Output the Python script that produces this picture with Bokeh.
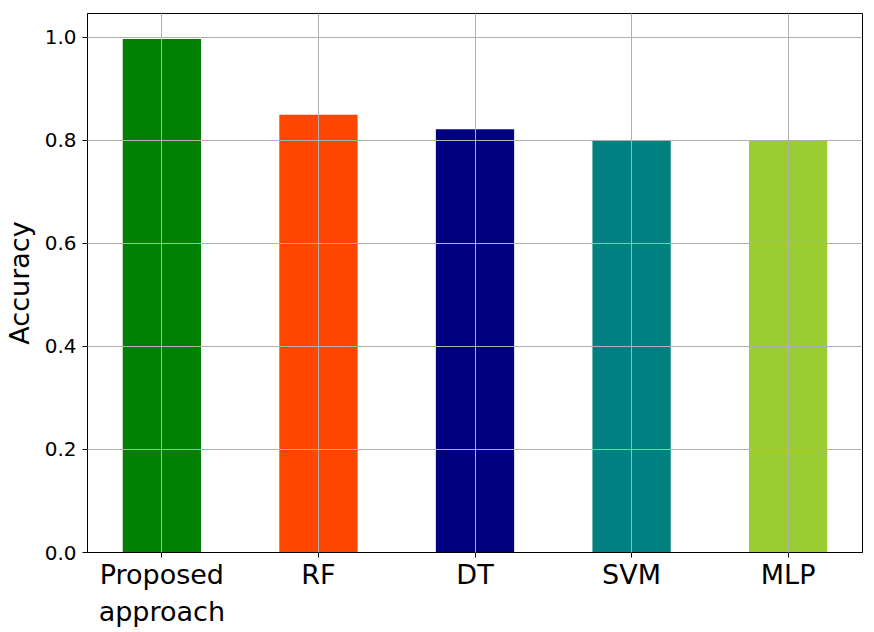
from bokeh.plotting import figure
from bokeh.models import Range1d, FixedTicker, PrintfTickFormatter
from bokeh.embed import file_html
from bokeh.resources import INLINE

categories = ["Proposed\napproach", "RF", "DT", "SVM", "MLP"]
accuracy = [0.997, 0.850, 0.822, 0.801, 0.800]
colors = ["#008000", "#FF4500", "#000080", "#008080", "#9ACD32"]
y_ticks = [0.0, 0.2, 0.4, 0.6, 0.8, 1.0]

xs = list(range(len(categories)))

p = figure(width=874, height=632, output_backend="svg", toolbar_location=None,
           x_range=Range1d(-0.475, 4.475), y_range=Range1d(0, 1.0466))
p.min_border_left = 86
p.min_border_right = 12
p.min_border_top = 13
p.min_border_bottom = 80

p.vbar(x=xs, top=accuracy, width=0.5, bottom=0, fill_color=colors, line_color=None)

p.xaxis.ticker = FixedTicker(ticks=xs)
p.xaxis.major_label_overrides = {i: c for i, c in zip(xs, categories)}
p.yaxis.ticker = FixedTicker(ticks=y_ticks)
p.yaxis.formatter = PrintfTickFormatter(format="%.1f")
p.yaxis.axis_label = "Accuracy"

for ax in (p.xaxis, p.yaxis):
    ax.axis_line_color = "black"
    ax.major_tick_line_color = "black"
    ax.major_tick_out = 5
    ax.major_tick_in = 0
    ax.minor_tick_line_color = None
    ax.major_label_text_font = "DejaVu Sans"
    ax.major_label_text_color = "black"
    ax.axis_label_text_font = "DejaVu Sans"
    ax.axis_label_text_font_style = "normal"
    ax.axis_label_text_color = "black"

p.xaxis.major_label_text_font_size = "27px"
p.yaxis.major_label_text_font_size = "20px"
p.yaxis.axis_label_text_font_size = "27px"
p.xaxis.major_label_standoff = 1
p.yaxis.major_label_standoff = 6
p.yaxis.axis_label_standoff = 7

p.grid.grid_line_color = "#b0b0b0"
p.grid.grid_line_width = 1
p.grid.level = "overlay"
p.outline_line_color = "black"
p.outline_line_width = 1
p.background_fill_color = "white"
p.border_fill_color = "white"

open("out.html", "w").write(file_html(p, INLINE))
